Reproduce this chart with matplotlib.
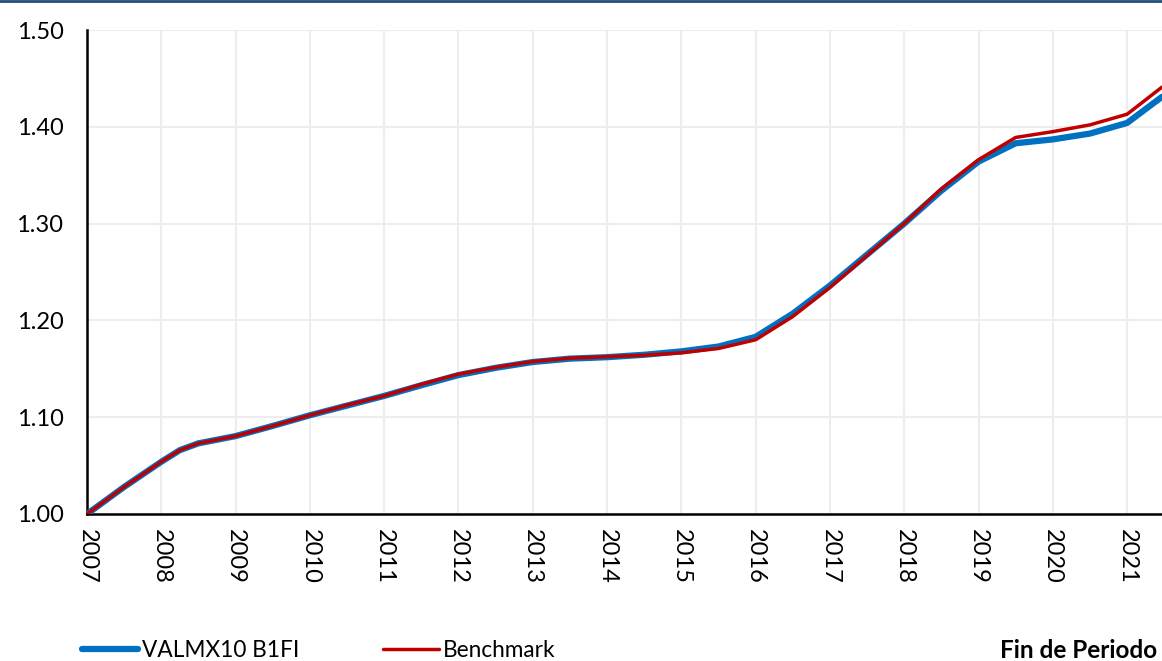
import matplotlib
matplotlib.use("Agg")
import matplotlib.pyplot as plt
from matplotlib.lines import Line2D

# lecturas aproximadas (fracción de año)
anios = [2007.0, 2007.5, 2008.0, 2008.25, 2008.5, 2009.0, 2009.5, 2010.0, 2010.5,
         2011.0, 2011.5, 2012.0, 2012.5, 2013.0, 2013.5, 2014.0, 2014.5, 2015.0,
         2015.5, 2016.0, 2016.5, 2017.0, 2017.5, 2018.0, 2018.5, 2019.0, 2019.5,
         2020.0, 2020.5, 2021.0, 2021.47]
valmx = [1.000, 1.028, 1.054, 1.066, 1.073, 1.0805, 1.091, 1.102, 1.112,
         1.122, 1.133, 1.1435, 1.151, 1.157, 1.1605, 1.162, 1.1645, 1.168,
         1.173, 1.183, 1.207, 1.236, 1.268, 1.300, 1.334, 1.364, 1.383,
         1.387, 1.393, 1.404, 1.431]
benchmark = [1.000, 1.028, 1.054, 1.066, 1.073, 1.0805, 1.091, 1.102, 1.1125,
             1.122, 1.134, 1.1445, 1.1515, 1.1575, 1.161, 1.1625, 1.164, 1.1665,
             1.171, 1.180, 1.204, 1.234, 1.267, 1.300, 1.336, 1.366, 1.389,
             1.395, 1.402, 1.413, 1.441]
ticks_x = list(range(2007, 2022))
ticks_y = [1.00, 1.10, 1.20, 1.30, 1.40, 1.50]

plt.rcParams['font.family'] = ['Lato', 'DejaVu Sans']

fig = plt.figure(figsize=(11.62, 6.61), dpi=100)
ax = fig.add_axes([0.0749, 0.2224, 0.9251, 0.7322])

ax.plot(anios, valmx, color="#0070C0", lw=4.5, solid_capstyle="round",
        label="VALMX10 B1FI", zorder=3)
ax.plot(anios, benchmark, color="#C00000", lw=2.5, solid_capstyle="round",
        label="Benchmark", zorder=4)

ax.set_xlim(2007, 2021.47)
ax.set_ylim(1.0, 1.5)
ax.set_xticks(ticks_x)
ax.set_xticklabels([str(t) for t in ticks_x], rotation=270, fontsize=17)
ax.set_yticks(ticks_y)
ax.set_yticklabels([f"{t:.2f}" for t in ticks_y], fontsize=17)
ax.tick_params(axis="y", length=0, pad=17)
ax.tick_params(axis="x", length=0, pad=11)

ax.grid(True, color="#EDEDED", lw=1.5)
ax.set_axisbelow(True)
for s in ["top", "right"]:
    ax.spines[s].set_visible(False)
for s in ["left", "bottom"]:
    ax.spines[s].set_linewidth(1.8)
    ax.spines[s].set_color("black")

fig.legend(loc="center left", bbox_to_anchor=(0.0706, 0.0166), ncol=2,
           frameon=False, fontsize=16.3, handlelength=2.48, handletextpad=0.18,
           columnspacing=3.67, borderpad=0, borderaxespad=0)
fig.text(0.996, 0.0166, "Fin de Periodo", ha="right", va="center",
         fontsize=17.5, fontweight="bold")

# barra superior
fig.add_artist(Line2D([0, 1], [0.998, 0.998], color="#1F4E79", lw=2,
                      transform=fig.transFigure))

fig.savefig("out.png", dpi=100)
